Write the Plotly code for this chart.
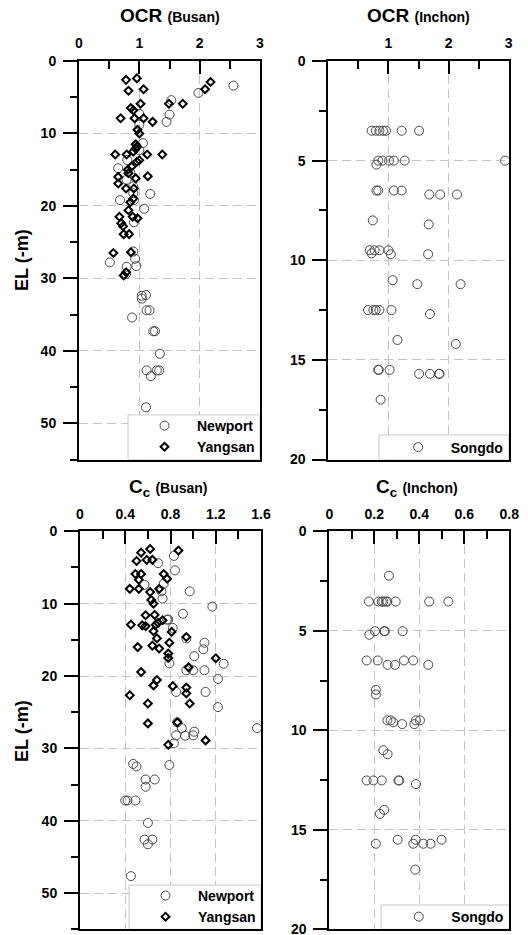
import plotly.graph_objects as go

# ---------------- DATA ----------------
# OCR (Busan) - Newport
ocr_bn_x = [2.56, 1.98, 1.53, 1.00, 1.50, 1.45, 1.00, 1.06, 1.00, 0.80, 0.65, 0.85, 0.79, 0.90,
            0.90, 1.18, 0.68, 0.91, 1.08, 0.91, 0.90, 0.51, 0.93, 0.95, 0.79, 0.78, 1.04, 1.11,
            1.04, 1.12, 1.17, 0.88, 1.23, 1.26, 1.34, 1.12, 1.29, 1.33, 1.19, 1.11]
ocr_bn_y = [3.4, 4.4, 5.4, 7.3, 7.4, 8.4, 8.8, 11.35, 12.3, 13.65, 14.8, 15.4, 16.4, 17.3,
            18.25, 18.35, 19.2, 19.2, 20.4, 22.25, 26.3, 27.8, 27.3, 28.3, 28.4, 29.4, 32.4, 32.3,
            32.8, 34.4, 34.4, 35.4, 37.3, 37.3, 40.4, 42.7, 42.7, 42.7, 43.5, 47.8]
# OCR (Busan) - Yangsan
ocr_by_x = [0.78, 0.96, 2.18, 2.09, 0.82, 1.07, 1.02, 1.49, 1.72, 0.86, 0.90, 0.69, 0.92, 1.07,
            1.22, 0.97, 1.00, 0.94, 0.96, 0.94, 0.90, 0.60, 0.79, 1.13, 1.38, 0.96, 1.00, 0.87,
            0.81, 0.82, 0.94, 1.14, 0.65, 0.65, 0.78, 0.91, 0.90, 0.85, 0.82, 0.67, 0.89, 0.97,
            0.70, 0.73, 0.74, 0.83, 0.57, 0.86, 0.78, 0.74]
ocr_by_y = [2.6, 2.4, 2.9, 3.9, 4.1, 3.9, 5.9, 5.9, 5.9, 6.5, 6.8, 7.9, 7.9, 7.9,
            8.4, 9.5, 10.0, 11.5, 11.8, 12.1, 12.5, 12.9, 12.9, 12.9, 12.9, 13.9, 13.7, 14.6,
            15.0, 15.5, 16.2, 15.9, 16.0, 16.9, 17.6, 17.6, 19.0, 19.5, 20.6, 21.5, 21.5, 21.7,
            22.4, 22.8, 23.9, 23.9, 26.5, 26.4, 29.15, 29.6]
# OCR (Inchon) - Songdo
ocr_is_x = [0.72, 0.79, 0.85, 0.91, 0.96, 1.22, 1.51,
            0.83, 0.90, 1.01, 1.09, 0.80, 1.27, 2.94,
            0.80, 0.83, 1.09, 1.22, 1.68, 1.86, 2.14,
            0.74, 1.67,
            0.69, 0.72, 0.77, 0.85, 1.00, 1.04, 1.66,
            1.07, 1.48, 2.20,
            0.66, 0.75, 0.79, 0.85, 1.05, 1.69,
            1.15, 2.12,
            0.83, 0.84, 1.02, 1.51, 1.69, 1.84, 1.85,
            0.87]
ocr_is_y = [3.5, 3.5, 3.5, 3.5, 3.5, 3.5, 3.5,
            5.0, 5.0, 5.0, 5.0, 5.2, 5.0, 5.0,
            6.5, 6.5, 6.5, 6.5, 6.7, 6.7, 6.7,
            8.0, 8.2,
            9.5, 9.65, 9.5, 9.5, 9.5, 9.7, 9.7,
            11.0, 11.2, 11.2,
            12.5, 12.5, 12.5, 12.5, 12.5, 12.7,
            14.0, 14.2,
            15.5, 15.5, 15.5, 15.7, 15.7, 15.7, 15.7,
            17.0]
# Cc (Busan) - Newport
cc_bn_x = [0.83, 0.69, 0.84, 0.57, 0.74, 0.72, 0.97, 0.73, 1.17, 0.91, 0.77, 0.78, 0.82,
           0.94, 1.10, 1.09, 1.01, 0.79, 1.27, 0.94, 1.00, 1.10, 1.22, 0.85, 1.11, 1.22,
           0.86, 0.90, 1.565, 0.85, 0.93, 1.01, 1.00, 0.83, 0.47, 0.50, 0.79, 0.58, 0.66,
           0.58, 0.40, 0.42, 0.49, 0.60, 0.57, 0.64, 0.60, 0.45]
cc_bn_y = [3.4, 4.4, 5.4, 7.4, 7.25, 8.3, 8.3, 9.3, 10.4, 11.4, 12.2, 12.2, 13.35,
           14.8, 15.4, 16.3, 17.25, 18.25, 18.3, 19.2, 19.2, 19.2, 20.4, 22.2, 22.2, 24.3,
           26.4, 27.2, 27.2, 28.2, 28.25, 27.7, 28.2, 29.3, 32.15, 32.5, 32.3, 34.3, 34.3,
           35.3, 37.2, 37.2, 37.2, 40.3, 42.6, 42.6, 43.25, 47.65]
# Cc (Busan) - Yangsan
cc_by_x = [0.62, 0.87, 0.54, 0.50, 0.59, 0.64, 0.49, 0.54, 0.74, 0.52, 0.77, 0.44, 0.52,
           0.70, 0.62, 0.63, 0.65, 0.58, 0.66, 0.45, 0.55, 0.58, 0.67, 0.69, 0.73, 0.65,
           0.81, 0.68, 0.94, 0.79, 0.51, 0.64, 0.70, 0.78, 0.78, 1.20, 0.96, 0.54, 0.68,
           0.65, 0.82, 0.94, 0.94, 0.44, 0.60, 0.97, 0.60, 0.86, 0.78, 1.11]
cc_by_y = [2.45, 2.65, 2.95, 4.1, 3.95, 3.95, 5.9, 5.9, 5.9, 6.7, 6.55, 7.95, 7.95,
           7.95, 8.4, 9.5, 10.0, 11.6, 11.55, 12.9, 13.0, 13.1, 12.9, 12.65, 12.3, 13.8,
           13.9, 14.8, 14.6, 15.4, 16.0, 15.8, 16.2, 16.9, 17.5, 17.55, 18.8, 19.45, 20.55,
           21.3, 21.4, 21.6, 22.4, 22.65, 23.8, 23.8, 26.55, 26.4, 29.5, 28.9]
# Cc (Inchon) - Songdo
cc_is_x = [0.265, 0.176, 0.218, 0.233, 0.240, 0.252, 0.258, 0.295, 0.444, 0.529,
           0.203, 0.178, 0.244, 0.247, 0.326,
           0.166, 0.215, 0.259, 0.292, 0.332, 0.373, 0.440,
           0.207, 0.207,
           0.258, 0.273, 0.284, 0.324, 0.378, 0.385, 0.403,
           0.240, 0.259,
           0.166, 0.196, 0.233, 0.307, 0.311, 0.385,
           0.244, 0.225,
           0.207, 0.304, 0.384, 0.373, 0.418, 0.450, 0.499,
           0.382]
cc_is_y = [2.23, 3.53, 3.53, 3.53, 3.53, 3.53, 3.53, 3.53, 3.53, 3.53,
           5.02, 5.2, 5.02, 5.02, 5.02,
           6.49, 6.49, 6.71, 6.71, 6.49, 6.49, 6.71,
           7.97, 8.2,
           9.5, 9.5, 9.6, 9.69, 9.69, 9.5, 9.5,
           11.0, 11.2,
           12.52, 12.52, 12.52, 12.52, 12.52, 12.7,
           14.0, 14.2,
           15.7, 15.5, 15.5, 15.7, 15.7, 15.7, 15.5,
           17.0]

# axis ranges
ocr_range = [0, 3]
cc_busan_range = [0, 1.6]
cc_inchon_range = [0, 0.8]
busan_depth = [55, 0]
inchon_depth = [20, 0]

# ---------------- FIGURE ----------------
W, H = 528, 935
FONT = "Liberation Sans, Arial, sans-serif"

def px_x(v):
    return v / W

def px_y(v):
    return 1 - v / H

fig = go.Figure()

circle_style = dict(symbol="circle-open", size=9, color="#4a4a4a", line=dict(width=1))
diamond_style = dict(symbol="diamond-open", size=6, color="black", line=dict(width=2))

fig.add_trace(go.Scatter(x=ocr_bn_x, y=ocr_bn_y, mode="markers", name="Newport",
                         marker=circle_style, xaxis="x", yaxis="y", legend="legend"))
fig.add_trace(go.Scatter(x=ocr_by_x, y=ocr_by_y, mode="markers", name="Yangsan",
                         marker=diamond_style, xaxis="x", yaxis="y", legend="legend"))
fig.add_trace(go.Scatter(x=ocr_is_x, y=ocr_is_y, mode="markers", name="Songdo",
                         marker=circle_style, xaxis="x2", yaxis="y2", legend="legend2"))
fig.add_trace(go.Scatter(x=cc_bn_x, y=cc_bn_y, mode="markers", name="Newport",
                         marker=circle_style, xaxis="x3", yaxis="y3", legend="legend3"))
fig.add_trace(go.Scatter(x=cc_by_x, y=cc_by_y, mode="markers", name="Yangsan",
                         marker=diamond_style, xaxis="x3", yaxis="y3", legend="legend3"))
fig.add_trace(go.Scatter(x=cc_is_x, y=cc_is_y, mode="markers", name="Songdo",
                         marker=circle_style, xaxis="x4", yaxis="y4", legend="legend4"))

tickfont = dict(family=FONT, size=14, color="black", weight="bold")
grid = dict(showgrid=True, gridcolor="#c4c4c4", gridwidth=1, griddash="9px,5px")

def xaxis(dom, anchor, rng, dtick, mdtick, tickvals=None):
    d = dict(domain=dom, anchor=anchor, side="top", range=rng, tick0=0, dtick=dtick,
             ticks="inside", ticklen=13, tickwidth=2, tickcolor="black",
             showline=True, linewidth=2, linecolor="black", mirror=True,
             zeroline=False, tickfont=tickfont, ticklabelstandoff=5, automargin=False,
             ticklabeloverflow="allow",
             minor=dict(tick0=0, dtick=mdtick, ticks="inside", ticklen=8, tickwidth=2,
                        tickcolor="black", showgrid=False),
             **grid)
    if tickvals is not None:
        d.update(tickmode="array", tickvals=tickvals)
    return d

def yaxis(dom, anchor, rng, dtick, mdtick):
    return dict(domain=dom, anchor=anchor, range=rng, tick0=0, dtick=dtick,
                ticks="outside", ticklen=14, tickwidth=2, tickcolor="black",
                showline=True, linewidth=2, linecolor="black", mirror=True,
                zeroline=False, tickfont=tickfont, ticklabelstandoff=4, automargin=False,
                ticklabeloverflow="allow",
                minor=dict(tick0=0, dtick=mdtick, ticks="outside", ticklen=7, tickwidth=2,
                           tickcolor="black", showgrid=False),
                **grid)

top_dom = [px_y(459.5), px_y(61)]
bot_dom = [px_y(929.3), px_y(531.3)]
x1_dom = [px_x(79), px_x(260)]
x2_dom = [px_x(328.3), px_x(508.7)]
x3_dom = [px_x(80), px_x(261)]
x4_dom = [px_x(329.3), px_x(509.3)]

fig.update_layout(
    width=W, height=H, autosize=False,
    margin=dict(l=0, r=0, t=0, b=0, autoexpand=False),
    paper_bgcolor="white", plot_bgcolor="white",
    font=dict(family=FONT, color="black"),
    xaxis=xaxis(x1_dom, "y", ocr_range, 1, 0.5),
    yaxis=yaxis(top_dom, "x", busan_depth, 10, 5),
    xaxis2=xaxis(x2_dom, "y2", ocr_range, 1, 0.5, tickvals=[1, 2, 3]),
    yaxis2=yaxis(top_dom, "x2", inchon_depth, 5, 2.5),
    xaxis3=xaxis(x3_dom, "y3", cc_busan_range, 0.4, 0.2),
    yaxis3=yaxis(bot_dom, "x3", busan_depth, 10, 5),
    xaxis4=xaxis(x4_dom, "y4", cc_inchon_range, 0.2, 0.1),
    yaxis4=yaxis(bot_dom, "x4", inchon_depth, 5, 2.5),
    showlegend=True,
)

# legend frames (light grey boxes in the lower right corner of each panel),
# given as fractions of each panel's width / height
boxes = [("x", "y", ocr_range, busan_depth, 0.271, 0.112),
         ("x2", "y2", ocr_range, inchon_depth, 0.281, 0.0615),
         ("x3", "y3", cc_busan_range, busan_depth, 0.271, 0.111),
         ("x4", "y4", cc_inchon_range, inchon_depth, 0.287, 0.061)]
for xr, yr, xrng, yrng, fx, fy in boxes:
    fig.add_shape(type="rect", xref=xr, yref=yr,
                  x0=xrng[0] + fx * (xrng[1] - xrng[0]), x1=xrng[1],
                  y0=yrng[0], y1=yrng[0] + fy * (yrng[1] - yrng[0]),
                  layer="between",
                  fillcolor="white", line=dict(color="#c8c8c8", width=1))

leg_common = dict(xanchor="right", yanchor="top", bgcolor="rgba(0,0,0,0)",
                  borderwidth=0,
                  font=dict(family=FONT, size=14, color="black", weight="bold"),
                  itemwidth=55, tracegroupgap=0)
fig.update_layout(
    legend=dict(x=x1_dom[1], y=px_y(410), **leg_common),
    legend2=dict(x=x2_dom[1], y=px_y(431.5), **leg_common),
    legend3=dict(x=x3_dom[1], y=px_y(880), **leg_common),
    legend4=dict(x=x4_dom[1], y=px_y(901), **leg_common),
)

titles = [
    ("<b>OCR <span style='font-size:14px'>(Busan)</span></b>", 170, 16),
    ("<b>OCR <span style='font-size:14px'>(Inchon)</span></b>", 418, 16),
    ("<b>C<sub>c</sub> <span style='font-size:14px'>(Busan)</span></b>", 168, 488),
    ("<b>C<sub>c</sub> <span style='font-size:14px'>(Inchon)</span></b>", 417, 488),
]
for txt, cx, cy in titles:
    fig.add_annotation(text=txt, x=px_x(cx), y=px_y(cy), xref="paper", yref="paper",
                       showarrow=False, xanchor="center", yanchor="middle",
                       font=dict(family=FONT, size=19, color="black"))

for cy in (260, 731):
    fig.add_annotation(text="<b>EL (-m)</b>", x=px_x(22), y=px_y(cy), xref="paper", yref="paper",
                       showarrow=False, xanchor="center", yanchor="middle", textangle=-90,
                       font=dict(family=FONT, size=18, color="black"))

# remove the default 8px page margin so the figure fills the window exactly
fig.write_html("out.html", config={"displayModeBar": False},
               post_script="document.body.style.margin='0px';")
